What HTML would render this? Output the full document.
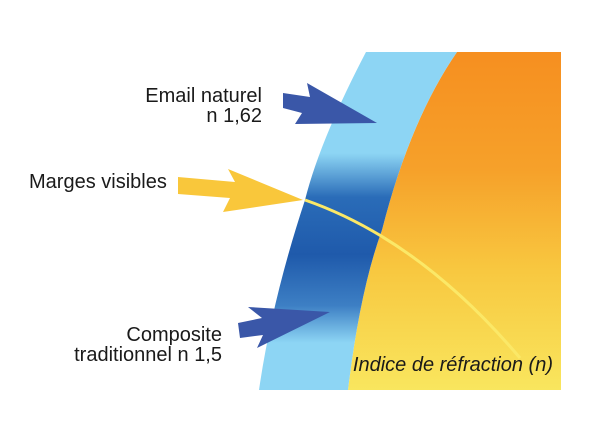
<!DOCTYPE html>
<html><head><meta charset="utf-8"><style>
html,body{margin:0;padding:0;background:#fff;}
svg{display:block}
text{font-family:"Liberation Sans",sans-serif;fill:#1a1a1a;font-size:20px;}
</style></head><body>
<svg width="600" height="434" viewBox="0 0 600 434" xmlns="http://www.w3.org/2000/svg">
<defs>
<linearGradient id="og" x1="0" y1="0" x2="0" y2="1">
<stop offset="0" stop-color="#f68f20"/>
<stop offset="0.35" stop-color="#f6a12a"/>
<stop offset="0.65" stop-color="#f8c840"/>
<stop offset="1" stop-color="#f9e65e"/>
</linearGradient>
<linearGradient id="bg" x1="0" y1="52" x2="0" y2="390" gradientUnits="userSpaceOnUse">
<stop offset="0" stop-color="#8dd5f4"/>
<stop offset="0.3" stop-color="#8dd5f4"/>
<stop offset="0.43" stop-color="#2a6cb8"/>
<stop offset="0.6" stop-color="#1f5aab"/>
<stop offset="0.75" stop-color="#3d7fc4"/>
<stop offset="0.86" stop-color="#8dd5f4"/>
<stop offset="1" stop-color="#8dd5f4"/>
</linearGradient>
</defs>
<path d="M457,52 Q410,120 382,230 Q360,290 348,390 L561,390 L561,52 Z" fill="url(#og)"/>
<path d="M366,52 Q320,140 305,200 Q272,300 259,390 L348,390 Q360,290 382,230 Q410,120 457,52 Z" fill="url(#bg)"/>
<path d="M305,200 Q420,240 520,358" fill="none" stroke="#fbe867" stroke-width="3"/>
<polygon points="283,93 310,97 307,83 377,123 295,124 302,113 283,108" fill="#3a57a8"/>
<polygon points="178,177 235,182 228,169 303,200 223,212 230,198 178,194" fill="#f9c73b"/>
<polygon points="238,323 262,318 248,307 330,312 257,348 263,335 240,338" fill="#3a57a8"/>
<text x="262" y="102" text-anchor="end">Email naturel</text>
<text x="262" y="122" text-anchor="end">n 1,62</text>
<text x="29" y="188">Marges visibles</text>
<text x="222" y="341" text-anchor="end">Composite</text>
<text x="222" y="361" text-anchor="end">traditionnel n 1,5</text>
<text x="553" y="371" text-anchor="end" font-style="italic">Indice de réfraction (n)</text>
</svg>
</body></html>
